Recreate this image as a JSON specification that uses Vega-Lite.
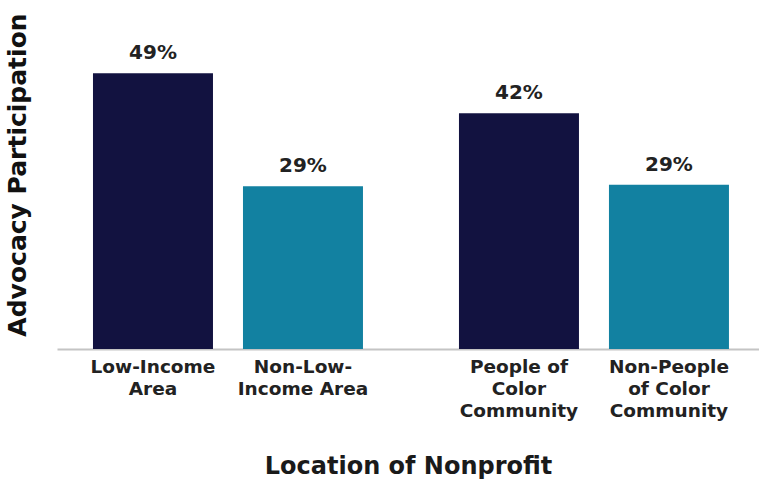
{
  "$schema": "https://vega.github.io/schema/vega-lite/v6.json",
  "width": 702,
  "height": 349,
  "autosize": {"type": "none"},
  "padding": {"left": 57, "top": 0, "right": 0, "bottom": 136},
  "background": "white",
  "config": {"view": {"stroke": null}, "font": "DejaVu Sans"},
  "data": {
    "values": [
      {"grp": "Location A", "kind": "Focus", "label": ["Low-Income", "Area"], "value": 0.49},
      {"grp": "Location A", "kind": "Non", "label": ["Non-Low-", "Income Area"], "value": 0.289},
      {"grp": "Location B", "kind": "Focus", "label": ["People of", "Color", "Community"], "value": 0.419},
      {"grp": "Location B", "kind": "Non", "label": ["Non-People", "of Color", "Community"], "value": 0.292}
    ]
  },
  "encoding": {
    "x": {
      "field": "grp",
      "type": "nominal",
      "sort": null,
      "scale": {"paddingInner": 0.2623, "paddingOuter": 0.0902, "align": 0.545},
      "axis": {
        "labels": false,
        "ticks": false,
        "domain": true,
        "domainColor": "#c4c4c4",
        "domainWidth": 2,
        "title": "Location of Nonprofit",
        "titleFont": "DejaVu Sans",
        "titleFontSize": 24,
        "titleFontWeight": "bold",
        "titleColor": "#1a1a1a",
        "titlePadding": 105
      }
    },
    "xOffset": {
      "field": "kind",
      "type": "nominal",
      "sort": ["Focus", "Non"],
      "scale": {"paddingInner": 0.2, "paddingOuter": 0}
    }
  },
  "layer": [
    {
      "mark": {"type": "bar"},
      "encoding": {
        "y": {
          "field": "value",
          "type": "quantitative",
          "scale": {"domain": [0, 0.62], "nice": false},
          "axis": {
            "labels": false,
            "ticks": false,
            "domain": false,
            "grid": false,
            "title": "Advocacy Participation",
            "titleFont": "DejaVu Sans",
            "titleFontSize": 25,
            "titleFontWeight": "bold",
            "titleColor": "#111111",
            "titlePadding": 27
          }
        },
        "color": {
          "field": "kind",
          "type": "nominal",
          "scale": {"domain": ["Focus", "Non"], "range": ["#121240", "#1281a1"]},
          "legend": null
        }
      }
    },
    {
      "mark": {"type": "text", "baseline": "alphabetic", "dy": -14, "fontSize": 20, "fontWeight": "bold", "color": "#222222"},
      "encoding": {
        "y": {"field": "value", "type": "quantitative"},
        "text": {"field": "value", "type": "quantitative", "format": ".0%"}
      }
    },
    {
      "mark": {"type": "text", "baseline": "top", "dy": 9, "fontSize": 18.5, "fontWeight": "bold", "lineHeight": 22, "color": "#222222"},
      "encoding": {
        "y": {"datum": 0, "type": "quantitative"},
        "text": {"field": "label"}
      }
    }
  ]
}
